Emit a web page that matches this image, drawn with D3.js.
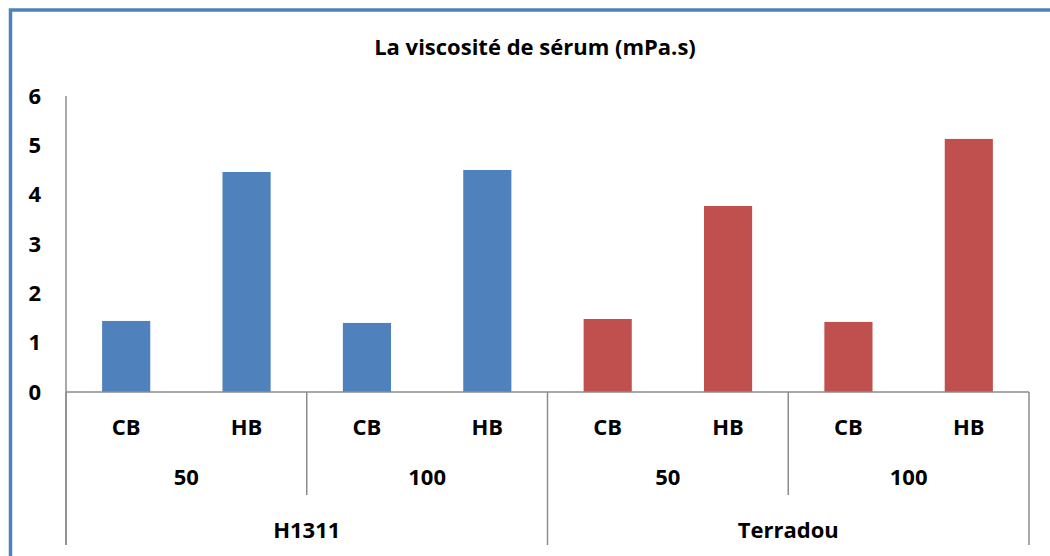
<!DOCTYPE html>
<html>
<head>
<meta charset="utf-8">
<script src="https://cdn.jsdelivr.net/npm/d3@7"></script>
<style>
  body { margin: 0; background: #fff; }
  svg { display: block; }
</style>
</head>
<body>
<svg id="chart"></svg>
<script>
// chart values
const treatmentLabels = ["CB", "HB", "CB", "HB", "CB", "HB", "CB", "HB"];
const doseLabels = ["50", "100", "50", "100"];
const varietyLabels = ["H1311", "Terradou"];
const viscosity = [1.44, 4.46, 1.40, 4.50, 1.48, 3.77, 1.42, 5.13];
const yTicks = [0, 1, 2, 3, 4, 5, 6];

const w = 1050;
const h = 556;
const margin = { top: 96, right: 21, bottom: 164, left: 66 };
const font = "'Open Sans', sans-serif";
const axisColor = "#8c8c8c";

const svg = d3.select("#chart")
    .attr("width", w)
    .attr("height", h);

// frame, only the left and top edges show
svg.append("rect")
    .attr("x", 10.5)
    .attr("y", 10)
    .attr("width", w + 20)
    .attr("height", h + 20)
    .attr("fill", "none")
    .attr("stroke", "#4f81bd")
    .attr("stroke-width", 3.5);

svg.append("text")
    .attr("x", 535)
    .attr("y", 55)
    .attr("text-anchor", "middle")
    .style("font-family", font)
    .style("font-weight", "bold")
    .style("font-size", "22px")
    .text("La viscosité de sérum (mPa.s)");

const xScale = d3.scaleBand()
    .domain(d3.range(treatmentLabels.length))
    .range([margin.left, w - margin.right]);

const yScale = d3.scaleLinear()
    .domain([0, 6])
    .range([h - margin.bottom, margin.top]);

const y0 = yScale(0);
const step = xScale.bandwidth();

// y axis labels
const yAxis = g => g
    .attr("transform", `translate(${margin.left},0)`)
    .call(d3.axisLeft(yScale).tickValues(yTicks).tickSize(0).tickPadding(25).tickFormat(d3.format("d")))
    .call(g => g.select(".domain").remove())
    .call(g => g.selectAll("text")
        .style("font-family", font)
        .style("font-weight", "bold")
        .style("font-size", "22px")
        .attr("fill", "#000"));

svg.append("g").call(yAxis);

// bars
svg.append("g")
    .selectAll("rect")
    .data(viscosity)
    .join("rect")
    .attr("x", (d, i) => xScale(i) + step * 0.3)
    .attr("y", d => yScale(d))
    .attr("width", step * 0.4)
    .attr("height", d => y0 - yScale(d))
    .attr("fill", (d, i) => i < 4 ? "#4f81bd" : "#c0504d");

// axis lines
const lines = svg.append("g")
    .attr("stroke", axisColor)
    .attr("stroke-width", 1.5)
    .attr("fill", "none");

lines.append("line")
    .attr("x1", margin.left).attr("x2", margin.left)
    .attr("y1", margin.top).attr("y2", 545);

lines.append("line")
    .attr("x1", margin.left).attr("x2", w - margin.right)
    .attr("y1", y0).attr("y2", y0);

// dividers between dose groups and variety groups
const doseEdges = d3.range(1, doseLabels.length).filter(k => k % 2 === 1);
lines.selectAll(".doseEdge")
    .data(doseEdges)
    .join("line")
    .attr("x1", k => xScale(k * 2)).attr("x2", k => xScale(k * 2))
    .attr("y1", y0).attr("y2", 495);

const varietyEdges = [0, 4, 8];
lines.selectAll(".varEdge")
    .data(varietyEdges)
    .join("line")
    .attr("x1", k => k < 8 ? xScale(k) : xScale.range()[1])
    .attr("x2", k => k < 8 ? xScale(k) : xScale.range()[1])
    .attr("y1", y0).attr("y2", 545);

// category labels
const labelStyle = sel => sel
    .attr("text-anchor", "middle")
    .style("font-family", font)
    .style("font-weight", "bold")
    .style("font-size", "22px")
    .attr("fill", "#000");

svg.append("g")
    .selectAll("text")
    .data(treatmentLabels)
    .join("text")
    .attr("x", (d, i) => xScale(i) + step / 2)
    .attr("y", 435)
    .text(d => d)
    .call(labelStyle);

svg.append("g")
    .selectAll("text")
    .data(doseLabels)
    .join("text")
    .attr("x", (d, i) => xScale(i * 2) + step)
    .attr("y", 485)
    .text(d => d)
    .call(labelStyle);

svg.append("g")
    .selectAll("text")
    .data(varietyLabels)
    .join("text")
    .attr("x", (d, i) => xScale(i * 4) + step * 2)
    .attr("y", 538)
    .text(d => d)
    .call(labelStyle);
</script>
</body>
</html>
